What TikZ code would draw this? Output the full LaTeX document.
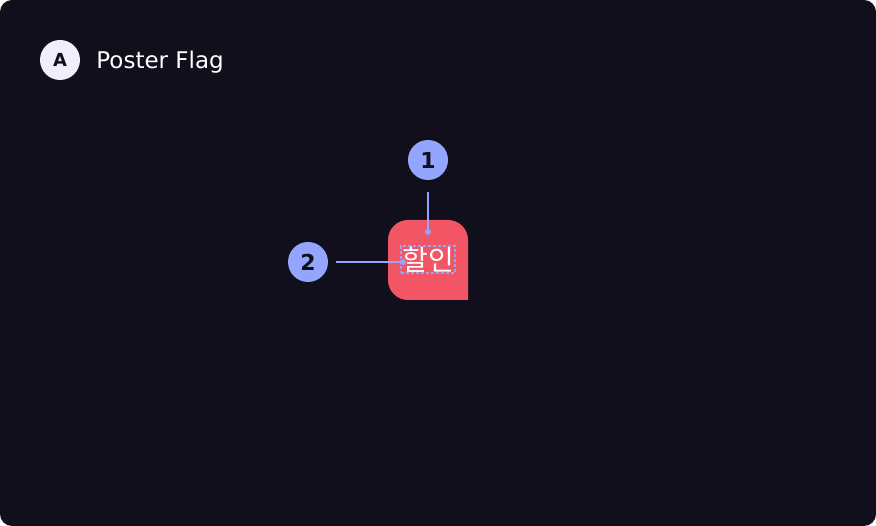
\documentclass[tikz,border=0pt]{standalone}
\usepackage{fontspec}
\setmainfont{DejaVu Sans}
\newfontfamily\krfont{Noto Sans CJK KR}
\usetikzlibrary{positioning}
\definecolor{bgDark}   {RGB}{ 17, 15, 28}
\definecolor{flagRed}  {RGB}{242, 85,100}
\definecolor{markBlue} {RGB}{147,165,255}
\definecolor{chipLight}{RGB}{239,238,250}

\begin{document}
\begin{tikzpicture}[x=1pt,y=-1pt,
          badge/.style={circle,fill=markBlue,minimum size=40pt,inner sep=0pt,
                        text=bgDark,font=\bfseries\fontsize{22}{22}\selectfont},
          lead/.style={markBlue,line width=1.2pt},
          tip/.style={circle,fill=markBlue,minimum size=6pt,inner sep=0pt},
        ]
        % canvas
        \fill[white](0,0) rectangle (876,526);
        \fill[bgDark,rounded corners=12pt](0,0) rectangle (876,526);
        \useasboundingbox (0,0) rectangle (876,526);

        % header
        \node[circle,fill=chipLight,minimum size=40pt,inner sep=0pt,text=bgDark,
              font=\bfseries\fontsize{18}{18}\selectfont](chip) at (60,60){A};
        \node[right=16pt of chip,yshift=-2pt,inner sep=0pt,text=white,
              font=\fontsize{23}{23}\selectfont](title){Poster Flag};

        % FLAG
        \fill[flagRed,rounded corners=20pt](468,300)--(388,300)--(388,220)--(468,220)
             [sharp corners]--cycle;
        \node[draw=markBlue,dash pattern=on 3pt off 2pt,line width=1.4pt,inner sep=0pt,
              text=white,minimum width=54pt,minimum height=27pt,
              font=\krfont\fontsize{28}{28}\selectfont](label) at (428,259.5){할인};

        % markers
        \node[badge](m1) at (428,160){1};
        \node[badge](m2) at (308,262){2};
        \node[tip](t1) at (428,232){};
        \node[tip](t2) at (403,262){};
        \path(m1.south)++(0,12) coordinate(s1);
        \draw[lead](s1)--(t1);
        \path(m2.east)++(8,0) coordinate(s2);
        \draw[lead](s2)--(t2);
      \end{tikzpicture}
\end{document}
